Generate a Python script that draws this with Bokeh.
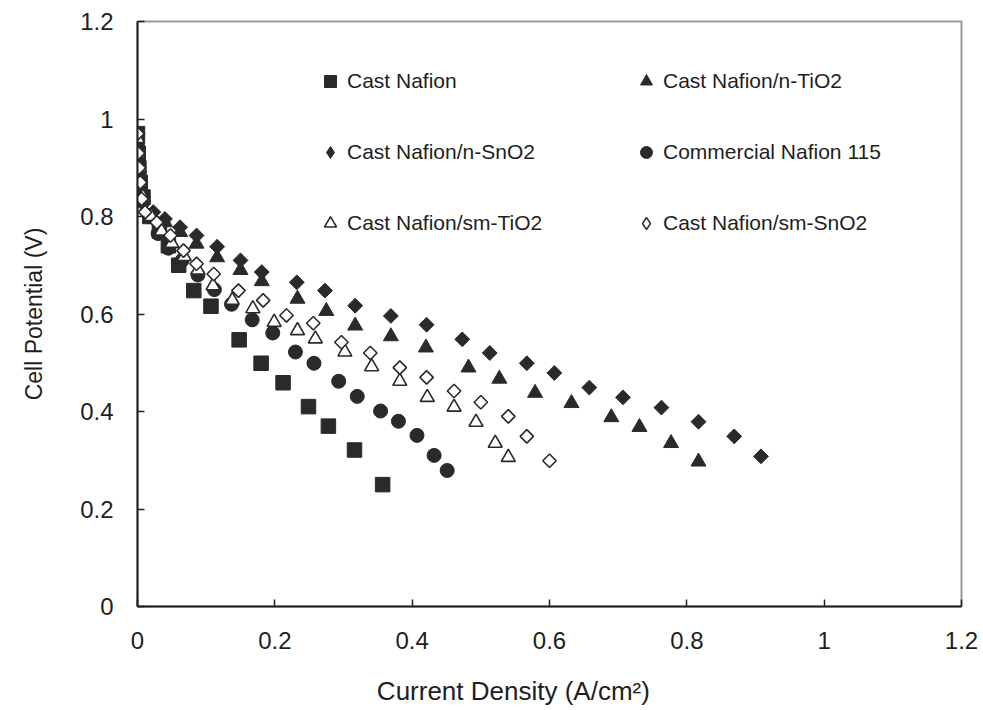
import numpy as np
from bokeh.plotting import figure
from bokeh.models import Range1d, FixedTicker, Legend, LegendItem
from bokeh.embed import file_html
from bokeh.resources import INLINE

# ---- data ----
cast_nafion_x = [0.000, 0.001, 0.002, 0.004, 0.008, 0.018, 0.032, 0.045, 0.060, 0.082, 0.107, 0.148, 0.180, 0.212, 0.249, 0.278, 0.316, 0.357]
cast_nafion_y = [0.97, 0.93, 0.90, 0.87, 0.84, 0.80, 0.77, 0.74, 0.70, 0.648, 0.616, 0.547, 0.499, 0.459, 0.410, 0.370, 0.321, 0.250]

n_tio2_x = [0.000, 0.001, 0.002, 0.004, 0.008, 0.022, 0.040, 0.062, 0.086, 0.116, 0.150, 0.181, 0.233, 0.275, 0.317, 0.369, 0.420, 0.482, 0.527, 0.579, 0.632, 0.690, 0.731, 0.777, 0.817]
n_tio2_y = [0.96, 0.93, 0.90, 0.87, 0.84, 0.80, 0.788, 0.768, 0.744, 0.716, 0.690, 0.667, 0.631, 0.606, 0.576, 0.554, 0.531, 0.490, 0.467, 0.438, 0.417, 0.388, 0.368, 0.335, 0.297]

n_sno2_x = [0.000, 0.001, 0.002, 0.004, 0.008, 0.023, 0.040, 0.062, 0.086, 0.116, 0.150, 0.181, 0.232, 0.273, 0.317, 0.369, 0.421, 0.473, 0.513, 0.567, 0.607, 0.658, 0.707, 0.763, 0.817, 0.869, 0.908]
n_sno2_y = [0.97, 0.94, 0.90, 0.87, 0.84, 0.809, 0.795, 0.778, 0.761, 0.738, 0.710, 0.686, 0.665, 0.648, 0.617, 0.596, 0.578, 0.548, 0.520, 0.499, 0.479, 0.449, 0.429, 0.408, 0.379, 0.349, 0.308]

nafion115_x = [0.000, 0.001, 0.002, 0.004, 0.008, 0.018, 0.030, 0.045, 0.065, 0.088, 0.112, 0.137, 0.167, 0.197, 0.230, 0.257, 0.293, 0.320, 0.354, 0.380, 0.407, 0.432, 0.451]
nafion115_y = [0.95, 0.92, 0.89, 0.86, 0.83, 0.80, 0.765, 0.735, 0.71, 0.68, 0.65, 0.620, 0.588, 0.561, 0.522, 0.499, 0.462, 0.431, 0.401, 0.380, 0.351, 0.310, 0.279]

sm_tio2_x = [0.000, 0.001, 0.002, 0.004, 0.008, 0.020, 0.035, 0.050, 0.068, 0.088, 0.110, 0.138, 0.168, 0.199, 0.233, 0.259, 0.302, 0.341, 0.382, 0.422, 0.461, 0.493, 0.521, 0.540]
sm_tio2_y = [0.96, 0.93, 0.90, 0.87, 0.84, 0.80, 0.77, 0.745, 0.718, 0.69, 0.658, 0.628, 0.611, 0.583, 0.566, 0.549, 0.522, 0.492, 0.462, 0.429, 0.409, 0.378, 0.335, 0.306]

sm_sno2_x = [0.000, 0.001, 0.002, 0.004, 0.006, 0.011, 0.028, 0.048, 0.067, 0.086, 0.111, 0.147, 0.183, 0.217, 0.256, 0.297, 0.339, 0.382, 0.421, 0.461, 0.500, 0.540, 0.567, 0.600]
sm_sno2_y = [0.97, 0.93, 0.90, 0.87, 0.836, 0.809, 0.788, 0.761, 0.730, 0.703, 0.682, 0.648, 0.628, 0.597, 0.581, 0.542, 0.520, 0.490, 0.470, 0.442, 0.419, 0.390, 0.349, 0.299]

series_names = ["Cast Nafion", "Cast Nafion/n-TiO2", "Cast Nafion/n-SnO2",
                "Commercial Nafion 115", "Cast Nafion/sm-TiO2", "Cast Nafion/sm-SnO2"]
x_ticks = [0, 0.2, 0.4, 0.6, 0.8, 1.0, 1.2]
y_ticks = [0, 0.2, 0.4, 0.6, 0.8, 1.0, 1.2]
x_tick_labels = {0: "0", 0.2: "0.2", 0.4: "0.4", 0.6: "0.6", 0.8: "0.8", 1.0: "1", 1.2: "1.2"}
y_tick_labels = {0: "0", 0.2: "0.2", 0.4: "0.4", 0.6: "0.6", 0.8: "0.8", 1.0: "1", 1.2: "1.2"}
x_title = "Current Density (A/cm\u00b2)"
y_title = "Cell Potential (V)"

FONT = "Liberation Sans"
TXT = "#1e1e1e"
MK = "#2a2a2a"
NAN = [float("nan")]

p = figure(width=983, height=710, output_backend="svg", toolbar_location=None,
           x_range=Range1d(0, 1.2), y_range=Range1d(0, 1.2),
           min_border_left=137, min_border_right=22, min_border_top=21, min_border_bottom=104)
p.background_fill_color = "white"
p.border_fill_color = "white"
p.outline_line_color = "#9a9a9a"
p.outline_line_width = 2
p.xgrid.visible = False
p.ygrid.visible = False

for ax, ticks, labels in ((p.xaxis, x_ticks, x_tick_labels), (p.yaxis, y_ticks, y_tick_labels)):
    ax.ticker = FixedTicker(ticks=ticks)
    ax.major_label_overrides = labels
    ax.axis_line_color = "#222222"
    ax.axis_line_width = 2
    ax.major_tick_line_color = "#222222"
    ax.major_tick_line_width = 1.5
    ax.major_tick_in = 7
    ax.major_tick_out = 0
    ax.minor_tick_line_color = None
    ax.major_label_text_font = FONT
    ax.major_label_text_font_size = "24px"
    ax.major_label_text_color = TXT
    ax.axis_label_text_font = FONT
    ax.axis_label_text_font_style = "normal"
    ax.axis_label_text_color = TXT

p.xaxis.major_label_standoff = 25
p.yaxis.major_label_standoff = 24

p.yaxis.axis_label = y_title
p.yaxis.axis_label_text_font_size = "23px"
p.yaxis.axis_label_standoff = 30

# the reference title sits left of the frame centre: pad with no-break spaces
p.xaxis.axis_label = x_title + "\u00a0" * 10
p.xaxis.axis_label_text_font_size = "26px"
p.xaxis.axis_label_standoff = 24

r1 = p.scatter(cast_nafion_x, cast_nafion_y, marker="square", size=14.5,
               fill_color=MK, line_color=MK)
r2 = p.scatter(n_tio2_x, n_tio2_y, marker="triangle", size=15,
               fill_color=MK, line_color=MK)
r3 = p.scatter(n_sno2_x, n_sno2_y, marker="square", angle=np.pi / 4, size=10.5,
               fill_color=MK, line_color=MK)
r4 = p.scatter(nafion115_x, nafion115_y, marker="circle", size=14,
               fill_color=MK, line_color=MK)
r5 = p.scatter(sm_tio2_x, sm_tio2_y, marker="triangle", size=14,
               fill_color="white", line_color=MK, line_width=1.6)
r6 = p.scatter(sm_sno2_x, sm_sno2_y, marker="square", angle=np.pi / 4, size=9.5,
               fill_color="white", line_color=MK, line_width=1.6)

# legend-only glyphs for the diamond series (legend does not rotate markers)
l3 = p.scatter(NAN, NAN, marker="diamond", size=12, fill_color=MK, line_color=MK)
l6 = p.scatter(NAN, NAN, marker="diamond", size=12, fill_color="white", line_color=MK, line_width=1.4)

legend_renderers = [r1, r2, l3, r4, r5, l6]
items = [LegendItem(label=n, renderers=[r]) for n, r in zip(series_names, legend_renderers)]
# column-major fill: put items so rows read left-to-right as in the reference
ordered = [items[0], items[2], items[4], items[1], items[3], items[5]]
legend = Legend(items=ordered, ncols=2, location=(178, 368),
                glyph_width=30, glyph_height=30, label_standoff=2,
                label_width=243, label_height=30, spacing=41,
                padding=0, margin=0, border_line_color=None,
                background_fill_alpha=0,
                label_text_font=FONT, label_text_font_size="21px",
                label_text_color=TXT)
p.add_layout(legend)

open("out.html", "w").write(file_html(p, INLINE))
